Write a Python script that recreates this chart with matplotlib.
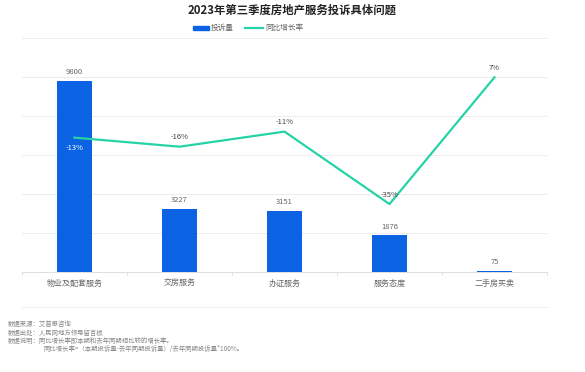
import matplotlib
matplotlib.use("Agg")
import matplotlib.pyplot as plt
import numpy as np

plt.rcParams['font.family'] = ['Noto Sans CJK SC', 'DejaVu Sans']

categories = ['物业及配套服务', '交房服务', '办证服务', '服务态度', '二手房买卖']
complaints = [9800, 3227, 3151, 1876, 75]
growth = [-13, -16, -11, -35, 7]
growth_labels = ['-13%', '-16%', '-11%', '-35%', '7%']

bar_color = '#0b63e3'
line_color = '#25d3a6'
text_gray = '#666666'

fig = plt.figure(figsize=(5.85, 3.72), dpi=100)
ax = fig.add_axes([22 / 585, 1 - 272 / 372, 525 / 585, 234 / 372])
x = np.arange(len(categories))

# bars
ax.bar(x, complaints, width=0.33, color=bar_color, zorder=2)
for xi, v in zip(x, complaints):
    ax.text(xi, v + 250, str(v), ha='center', va='bottom', fontsize=5.5, color=text_gray)

# line on secondary axis
ax2 = ax.twinx()
ax2.plot(x, growth, color=line_color, linewidth=1.6, zorder=3)
ax2.set_ylim(-57.5, 20)
ax2.axis('off')
for i, (xi, g, lab) in enumerate(zip(x, growth, growth_labels)):
    if i == 0:
        ax2.text(xi, g - 2, lab, ha='center', va='top', fontsize=5.5, color='white')
    else:
        ax2.text(xi, g + 1.8, lab, ha='center', va='bottom', fontsize=5.5, color='#444444')

ax.set_xlim(-0.5, len(categories) - 0.5)
ax.set_ylim(0, 12000)
ax.set_yticks(np.arange(0, 12001, 2000))
ax.yaxis.grid(True, color='#ececec', linewidth=0.7)
ax.set_axisbelow(True)
ax.tick_params(axis='y', left=False, right=False, labelleft=False, labelright=False)
ax.set_xticks(x)
ax.set_xticklabels(categories, fontsize=5.8, color=text_gray)
ax.tick_params(axis='x', length=0, pad=5)
# category boundary ticks
for b in np.arange(-0.5, len(categories), 1.0):
    ax.plot([b, b], [0, -150], color='#dddddd', linewidth=0.6, clip_on=False)
for s in ['top', 'right', 'left']:
    ax.spines[s].set_visible(False)
ax.spines['bottom'].set_color('#dddddd')
ax.spines['bottom'].set_linewidth(0.7)

# title and legend
fig.text(0.5, 1 - 10 / 372, '2023年第三季度房地产服务投诉具体问题', ha='center', va='center',
         fontsize=8.2, fontweight='bold', color='#222222')
fig.patches.append(plt.Rectangle((193 / 585, 1 - 30 / 372), 16 / 585, 4 / 372,
                                 transform=fig.transFigure, color=bar_color))
fig.text(211 / 585, 1 - 28 / 372, '投诉量', ha='left', va='center', fontsize=5.5, color=text_gray)
fig.add_artist(plt.Line2D([245 / 585, 263 / 585], [1 - 28 / 372, 1 - 28 / 372],
                          color=line_color, linewidth=1.6, transform=fig.transFigure))
fig.text(265 / 585, 1 - 28 / 372, '同比增长率', ha='left', va='center', fontsize=5.5, color=text_gray)

# separator and notes
fig.add_artist(plt.Line2D([22 / 585, 547 / 585], [1 - 307 / 372, 1 - 307 / 372],
                          color='#eeeeee', linewidth=0.7, transform=fig.transFigure))
notes = [
    (8, 324, '数据来源：艾普思咨询'),
    (8, 332.5, '数据出处：人民网地方领导留言板'),
    (8, 341, '数据说明：同比增长率即本期和去年同期相比较的增长率。'),
    (43, 349.5, '同比增长率=（本期投诉量-去年同期投诉量）/去年同期投诉量*100%。'),
]
for nx_, ny_, t in notes:
    fig.text(nx_ / 585, 1 - ny_ / 372, t, ha='left', va='center', fontsize=4.6, color='#888888')

fig.savefig('out.png', dpi=100)
